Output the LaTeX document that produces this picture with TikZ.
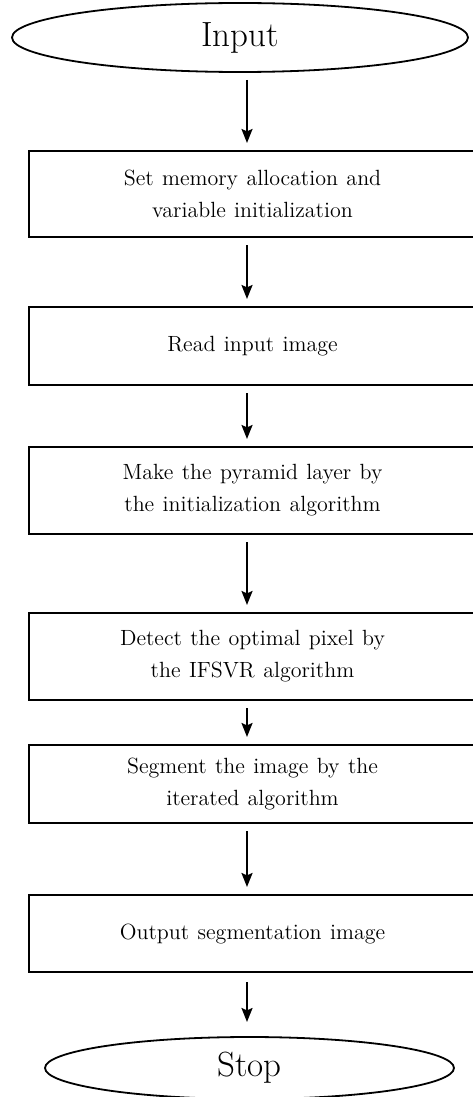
\documentclass[tikz,border=0pt]{standalone}
\usetikzlibrary{shapes.geometric,arrows.meta}
\newcommand\stepfont{\fontsize{11}{16}\selectfont\spaceskip=4.2pt plus 1pt minus 1pt\relax}
\begin{document}
\begin{tikzpicture}[x=0.5pt,y=-0.5pt,
  every node/.style={inner sep=0pt,outer sep=0pt},
  terminal/.style={draw,line width=0.9pt,ellipse,font=\fontsize{17.5}{20}\selectfont},
  stepbox/.style={draw,line width=1pt,rectangle,minimum width=223.5pt,
    align=center,font=\stepfont},
  flow/.style={line width=1pt,-{Stealth[length=7pt,width=5.5pt,inset=1.2pt]},
    shorten <=4pt,shorten >=4pt}]
  \useasboundingbox (0,0) rectangle (472,1097);

  % terminals
  \node[terminal,minimum width=228pt,minimum height=34.5pt] (in) at (240,37.5) {Input};
  \node[terminal,minimum width=204.5pt,minimum height=31pt] (stop) at (249.5,1068) {Stop};

  % processing steps
  \node[stepbox,minimum height=43pt] (s1) at (252.5,194) {Set memory allocation and\\variable initialization};
  \node[stepbox,minimum height=39pt] (s2) at (252.5,346) {Read input image};
  \node[stepbox,minimum height=43.5pt] (s3) at (252.5,490.5) {Make the pyramid layer by\\the initialization algorithm};
  \node[stepbox,minimum height=43.5pt] (s4) at (252.5,656.5) {Detect the optimal pixel by\\the IFSVR algorithm};
  \node[stepbox,minimum height=39pt] (s5) at (252.5,784) {Segment the image by the\\iterated algorithm};
  \node[stepbox,minimum height=38.5pt] (s6) at (252.5,933.5) {Output segmentation image};

  % vertical axis of the connectors
  \coordinate (spine) at (247,0);

  \draw[flow] (in.south -| spine) -- (s1.north -| spine);
  \draw[flow] (s1.south -| spine) -- (s2.north -| spine);
  \draw[flow] (s2.south -| spine) -- (s3.north -| spine);
  \draw[flow] (s3.south -| spine) -- (s4.north -| spine);
  \draw[flow] (s4.south -| spine) -- (s5.north -| spine);
  \draw[flow] (s5.south -| spine) -- (s6.north -| spine);
  \draw[flow,shorten <=5pt,shorten >=7.5pt] (s6.south -| spine) -- (stop.north -| spine);
\end{tikzpicture}
\end{document}
